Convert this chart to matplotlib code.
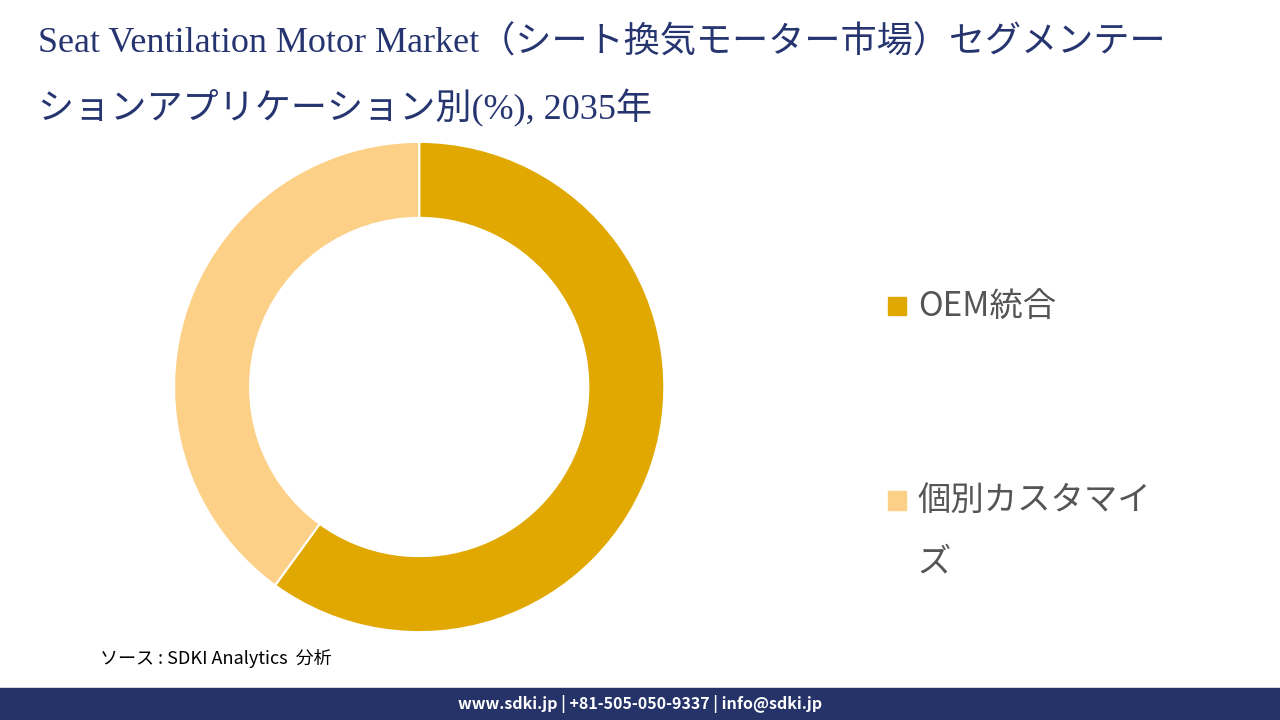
import matplotlib
matplotlib.use("Agg")
import matplotlib.pyplot as plt
from matplotlib.patches import Rectangle

plt.rcParams['font.family'] = ['Noto Sans CJK JP', 'DejaVu Sans']

labels = ["OEM統合", "個別カスタマイズ"]
values = [60, 40]
colors = ["#E0A800", "#FDD087"]

fig = plt.figure(figsize=(12.8, 7.2), dpi=100)
fig.patch.set_facecolor("white")

tf = ['Liberation Serif', 'Noto Sans CJK JP']
fig.text(0.03, 0.94, "Seat Ventilation Motor Market（シート換気モーター市場）セグメンテー",
         fontsize=26, color="#263570", va="center", family=tf)
fig.text(0.03, 0.85, "ションアプリケーション別(%), 2035年",
         fontsize=26, color="#263570", va="center", family=tf)

ax = fig.add_axes([0.136, 0.122, 0.383, 0.681])
ax.pie(values, colors=colors, startangle=90, counterclock=False, radius=1,
       wedgeprops=dict(width=0.31, edgecolor="white", linewidth=1.5))
ax.set_xlim(-1, 1)
ax.set_ylim(-1, 1)
ax.set_aspect("equal")
ax.axis("off")

ys = [0.575, 0.305]
fig.patches.append(Rectangle((0.694, ys[0] - 0.013), 0.014, 0.026, color=colors[0], transform=fig.transFigure))
fig.text(0.717, ys[0], labels[0], fontsize=24, color="#555555", va="center")
fig.patches.append(Rectangle((0.694, ys[1] - 0.013), 0.014, 0.026, color=colors[1], transform=fig.transFigure))
fig.text(0.717, ys[1], "個別カスタマイ", fontsize=24, color="#555555", va="center")
fig.text(0.717, ys[1] - 0.085, "ズ", fontsize=24, color="#555555", va="center")

fig.text(0.078, 0.085, "ソース : SDKI Analytics  分析", fontsize=13, style="italic", color="black", va="center")

fig.patches.append(Rectangle((0, 0), 1, 0.044, color="#253369", transform=fig.transFigure))
fig.text(0.5, 0.022, "www.sdki.jp | +81-505-050-9337 | info@sdki.jp", fontsize=11.5,
         color="white", weight="bold", ha="center", va="center")

fig.savefig("out.png", dpi=100)
